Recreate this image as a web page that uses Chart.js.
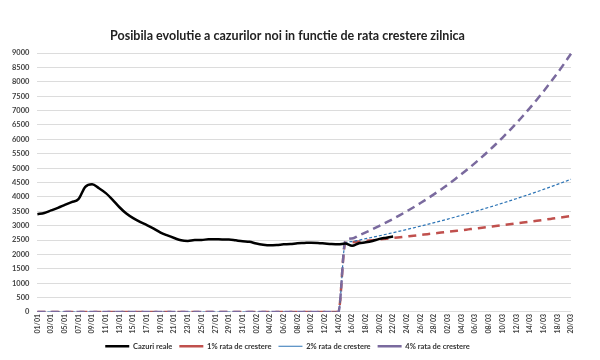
<!DOCTYPE html>
<html>
<head>
<meta charset="utf-8">
<script src="https://cdn.jsdelivr.net/npm/chart.js@4"></script>
<style>
  html, body { margin: 0; padding: 0; background: #fff; }
  #wrap { width: 600px; height: 360px; }
</style>
</head>
<body>
<div id="wrap"><canvas id="casesChart" width="600" height="360"></canvas></div>
<script>
// dates 01/01 - 20/03
const dates = [
    '01/01','02/01','03/01','04/01','05/01','06/01','07/01','08/01','09/01','10/01',
    '11/01','12/01','13/01','14/01','15/01','16/01','17/01','18/01','19/01','20/01',
    '21/01','22/01','23/01','24/01','25/01','26/01','27/01','28/01','29/01','30/01',
    '31/01','01/02','02/02','03/02','04/02','05/02','06/02','07/02','08/02','09/02',
    '10/02','11/02','12/02','13/02','14/02','15/02','16/02','17/02','18/02','19/02',
    '20/02','21/02','22/02','23/02','24/02','25/02','26/02','27/02','28/02','01/03',
    '02/03','03/03','04/03','05/03','06/03','07/03','08/03','09/03','10/03','11/03',
    '12/03','13/03','14/03','15/03','16/03','17/03','18/03','19/03','20/03'
];

// real cases, 01/01 - 22/02
const realCases = [
    3400, 3440, 3530, 3620, 3720, 3820, 3920, 4350, 4440, 4300,
    4130, 3900, 3640, 3420, 3260, 3130, 3020, 2900, 2760, 2660,
    2570, 2490, 2470, 2500, 2500, 2530, 2530, 2520, 2520, 2490,
    2460, 2440, 2380, 2340, 2320, 2330, 2350, 2360, 2390, 2400,
    2410, 2400, 2380, 2360, 2350, 2380, 2300, 2390, 2420, 2470,
    2540, 2580, 2620
];

// projections, 01/01 - 14/02 are zero
const zeroDays = [
    0, 0, 0, 0, 0, 0, 0, 0, 0, 0, 0, 0, 0, 0, 0,
    0, 0, 0, 0, 0, 0, 0, 0, 0, 0, 0, 0, 0, 0, 0,
    0, 0, 0, 0, 0, 0, 0, 0, 0, 0, 0, 0, 0, 0, 0
];
const growth1 = [
    2400, 2424, 2448, 2473, 2497, 2522, 2548, 2573, 2599, 2625,
    2651, 2678, 2704, 2731, 2759, 2786, 2814, 2842, 2871, 2900,
    2928, 2958, 2987, 3017, 3047, 3078, 3109, 3140, 3171, 3203,
    3235, 3267, 3300, 3333
];
const growth2 = [
    2400, 2448, 2497, 2547, 2598, 2650, 2703, 2757, 2812, 2868,
    2926, 2984, 3044, 3105, 3167, 3230, 3295, 3360, 3428, 3496,
    3566, 3637, 3710, 3784, 3860, 3937, 4016, 4096, 4178, 4262,
    4347, 4434, 4523, 4613
];
const growth4 = [
    2460, 2558, 2661, 2767, 2878, 2993, 3113, 3237, 3367, 3501,
    3641, 3787, 3939, 4096, 4260, 4430, 4608, 4792, 4983, 5183,
    5390, 5606, 5830, 6063, 6306, 6558, 6820, 7093, 7377, 7672,
    7979, 8298, 8630, 8975
];

const seriesNames = ['Cazuri reale', '1% rata de crestere', '2% rata de crestere', '4% rata de crestere'];

const fontFamily = 'Lato, "Open Sans", sans-serif';

const ctx = document.getElementById('casesChart').getContext('2d');
const casesChart = new Chart(ctx, {
    type: 'line',
    data: {
        labels: dates,
        datasets: [{
            label: seriesNames[0],
            data: realCases,
            borderColor: '#000000',
            borderWidth: 2.5,
            order: 0
        }, {
            label: seriesNames[1],
            data: zeroDays.concat(growth1),
            borderColor: '#c0504d',
            borderWidth: 2.5,
            borderDash: [8, 6],
            order: 3
        }, {
            label: seriesNames[2],
            data: zeroDays.concat(growth2),
            borderColor: '#2e75b6',
            borderWidth: 1.2,
            borderDash: [3, 2],
            order: 2
        }, {
            label: seriesNames[3],
            data: zeroDays.concat(growth4),
            borderColor: '#7a6a9e',
            borderWidth: 2.5,
            borderDash: [8, 5],
            order: 1
        }]
    },
    options: {
        responsive: false,
        animation: false,
        layout: { padding: { left: 4, right: 29, top: 12, bottom: 0 } },
        elements: {
            point: { radius: 0, hoverRadius: 0 },
            line: { tension: 0.3, fill: false, cubicInterpolationMode: 'monotone' }
        },
        plugins: {
            title: {
                display: true,
                text: 'Posibila evolutie a cazurilor noi in functie de rata crestere zilnica',
                color: '#222',
                font: { family: fontFamily, size: 12.5, weight: 'bold' },
                padding: { top: 16, bottom: 10 }
            },
            legend: {
                position: 'bottom',
                labels: {
                    usePointStyle: true,
                    pointStyle: 'line',
                    pointStyleWidth: 24,
                    boxHeight: 8,
                    padding: 7,
                    color: '#333',
                    font: { family: fontFamily, size: 7.5, weight: 'bold' },
                    sort: (a, b) => a.datasetIndex - b.datasetIndex
                }
            },
            tooltip: { enabled: false }
        },
        scales: {
            x: {
                offset: false,
                grid: { display: false, drawTicks: false },
                border: { display: false },
                ticks: {
                    autoSkip: false,
                    minRotation: 90,
                    maxRotation: 90,
                    padding: 2,
                    color: '#444',
                    font: { family: fontFamily, size: 7, weight: 'bold' },
                    callback: function(value, index) {
                        return index % 2 === 0 ? dates[index] : null;
                    }
                }
            },
            y: {
                min: 0,
                max: 9000,
                border: { display: false },
                grid: { color: '#dcdcdc', borderDash: [3, 3], drawTicks: false },
                ticks: {
                    stepSize: 500,
                    padding: 8,
                    color: '#444',
                    font: { family: fontFamily, size: 7.5, weight: 'bold' },
                    callback: (value) => String(value)
                }
            }
        }
    }
});
</script>
</body>
</html>
